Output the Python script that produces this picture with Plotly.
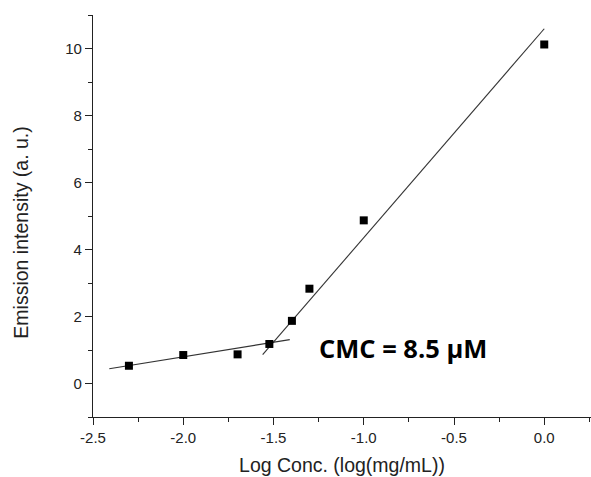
import plotly.graph_objects as go

# Data points (log concentration, emission intensity)
log_conc = [-2.301, -2.0, -1.699, -1.523, -1.398, -1.301, -1.0, 0.0]
intensity = [0.53, 0.85, 0.87, 1.18, 1.87, 2.83, 4.87, 10.12]

# Linear fit segments (endpoints)
fit1_x = [-2.41, -1.41]
fit1_y = [0.44, 1.31]
fit2_x = [-1.56, 0.0]
fit2_y = [0.86, 10.59]

annotation_text = "CMC = 8.5 µM"
x_title = "Log Conc. (log(mg/mL))"
y_title = "Emission intensity (a. u.)"

fig = go.Figure()
fig.add_trace(go.Scatter(x=fit1_x, y=fit1_y, mode="lines",
                         line=dict(color="#333333", width=1.1), showlegend=False))
fig.add_trace(go.Scatter(x=fit2_x, y=fit2_y, mode="lines",
                         line=dict(color="#333333", width=1.1), showlegend=False))
fig.add_trace(go.Scatter(x=log_conc, y=intensity, mode="markers",
                         marker=dict(symbol="square", size=8, color="black"),
                         showlegend=False))

fig.add_annotation(x=-0.783, y=1.05, text=f"<b>{annotation_text}</b>", showarrow=False,
                   font=dict(family="Open Sans", size=25.5, color="black"),
                   xanchor="center", yanchor="middle")

tick_font = dict(family="Liberation Sans, Arial", size=15, color="#222222")
title_font = dict(family="Liberation Sans, Arial", size=19.5, color="#222222")

# y-axis title placed as rotated annotation (slightly below axis centre, as in the original)
fig.add_annotation(xref="paper", yref="paper", x=-0.145, y=0.458, text=y_title,
                   textangle=-90, showarrow=False, font=title_font,
                   xanchor="center", yanchor="middle")

fig.update_layout(
    width=591, height=477,
    margin=dict(l=93, r=0, t=15, b=60),
    paper_bgcolor="white", plot_bgcolor="white",
    xaxis=dict(range=[-2.5, 0.259], tickvals=[-2.5, -2.0, -1.5, -1.0, -0.5, 0.0],
               ticktext=["-2.5", "-2.0", "-1.5", "-1.0", "-0.5", "0.0"],
               showgrid=False, zeroline=False, showline=True, linecolor="#222222", linewidth=1.3,
               ticks="outside", ticklen=7, tickwidth=1.2, tickcolor="#222222",
               minor=dict(tickvals=[-2.25, -1.75, -1.25, -0.75, -0.25, 0.25], ticks="outside",
                          ticklen=4, tickwidth=1.2, tickcolor="#222222"),
               tickfont=tick_font,
               title=dict(text=x_title, font=title_font, standoff=13)),
    yaxis=dict(range=[-1, 11], tickvals=[0, 2, 4, 6, 8, 10],
               showgrid=False, zeroline=False, showline=True, linecolor="#222222", linewidth=1.3,
               ticks="outside", ticklen=7, tickwidth=1.2, tickcolor="#222222",
               minor=dict(tickvals=[-1, 1, 3, 5, 7, 9, 11], ticks="outside",
                          ticklen=4, tickwidth=1.2, tickcolor="#222222"),
               tickfont=tick_font),
)

fig.write_html("out.html")
